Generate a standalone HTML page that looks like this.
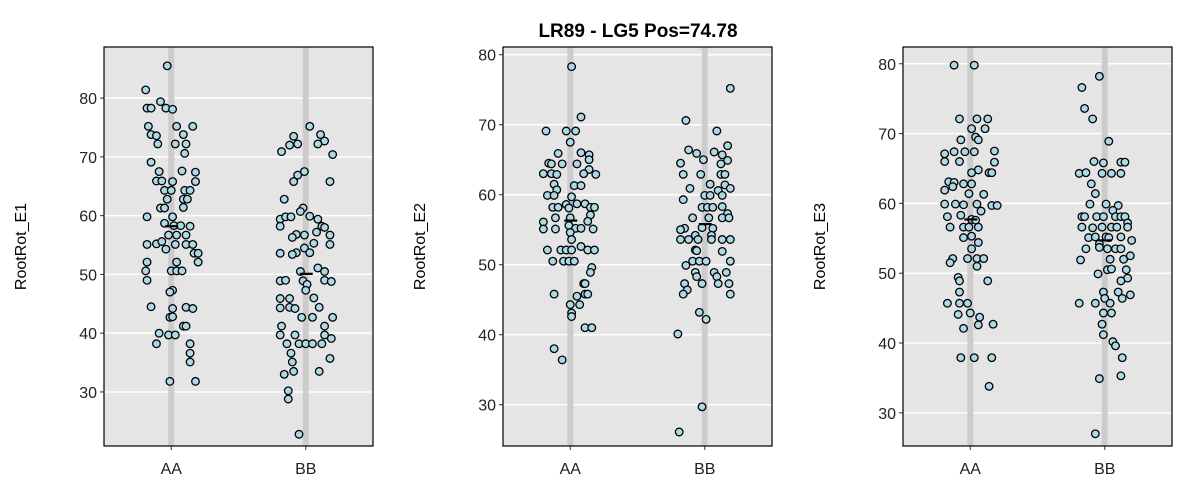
<!DOCTYPE html>
<html><head><meta charset="utf-8"><style>
html,body{margin:0;padding:0;background:#fff;}
svg{display:block;font-family:"Liberation Sans",Arial,sans-serif;}
</style></head><body>
<svg id="chart" width="1200" height="500">
<text x="638" y="37" text-anchor="middle" font-size="19" font-weight="bold" fill="#000">LR89 - LG5 Pos=74.78</text>
</svg>
<script>
const categories = ["AA", "BB"];
const ticks = [30, 40, 50, 60, 70, 80];
const yTitles = ["RootRot_E1", "RootRot_E2", "RootRot_E3"];
const domains = [[20.8, 88.7], [24.1, 81.1], [25.25, 82.4]];
const means = [[58.2, 50.1], [56.3, 55.8], [57.7, 54.7]];

const p1AAval = [85.5,81.4,78.3,78.3,79.4,78.3,78.1,75.2,73.8,73.6,72.2,75.2,75.2,73.8,72.2,72.2,70.6,69.1,67.5,67.6,67.4,65.8,65.9,65.9,65.8,64.3,64.3,64.3,64.3,62.8,62.8,62.8,61.3,61.3,61.4,59.8,59.8,58.7,58.3,58.2,58.3,56.7,56.7,56.7,55.1,55.2,55.6,54.3,55.1,55.1,55.1,53.6,53.6,52.1,52.1,50.6,49.0,52.1,50.6,50.6,50.6,47.3,47.0,44.5,44.2,44.4,44.2,42.7,42.8,41.2,41.2,40.0,39.7,39.7,38.2,38.2,36.6,35.1,31.8,31.8];
const p1AAjit = [-0.03,-0.19,-0.18,-0.15,-0.08,-0.04,0.01,-0.17,-0.15,-0.11,-0.1,0.04,0.16,0.09,0.03,0.11,0.1,-0.15,-0.09,0.08,0.18,0.18,-0.11,-0.07,0.01,-0.05,0,0.1,0.14,-0.03,0.09,0.12,-0.08,-0.05,0.09,-0.18,0.01,-0.05,0.02,0.14,0.07,-0.02,0.04,0.11,-0.18,-0.11,-0.07,-0.04,0.03,0.11,0.16,0.17,0.2,0.2,-0.18,-0.19,-0.18,0.04,0,0.04,0.08,0.01,-0.01,-0.15,0.01,0.11,0.16,-0.01,0.01,0.09,0.11,-0.09,-0.02,0.03,-0.11,0.14,0.14,0.14,-0.01,0.18];
const p1BBval = [75.2,73.5,73.8,72.7,72.0,72.2,72.2,70.9,70.4,67.5,66.9,65.8,65.8,62.8,61.3,60.7,59.4,59.8,59.8,59.9,59.4,58.2,58.0,58.2,57.2,56.8,56.7,56.3,56.7,55.3,55.1,54.5,53.7,53.4,53.7,53.6,51.1,50.5,50.5,48.9,49.0,48.9,49.0,48.8,48.3,47.3,46.0,45.9,45.9,44.3,44.4,44.2,44.4,42.7,42.7,42.7,41.2,41.2,39.7,39.7,39.7,39.1,38.2,38.2,38.2,38.2,38.2,36.6,35.1,35.7,33.5,33.0,33.5,30.2,28.8,22.8];
const p1BBjit = [0.03,-0.09,0.11,0.14,-0.12,-0.06,0.09,-0.18,0.2,-0.01,-0.06,-0.09,0.18,-0.16,-0.02,-0.04,-0.19,-0.15,-0.11,0.03,0.09,0.12,0.14,-0.19,0.08,-0.07,-0.01,-0.1,0.18,0.06,0.18,-0.01,-0.07,-0.1,0.03,-0.19,0.09,-0.04,0.14,-0.19,-0.15,-0.02,0.14,0.19,0.01,0,0.06,-0.19,-0.12,-0.19,-0.12,-0.08,0.1,-0.03,0.05,0.2,-0.18,0.14,-0.19,-0.08,0.14,0.19,-0.14,-0.05,0,0.05,0.12,-0.11,-0.1,0.18,-0.09,-0.16,0.1,-0.13,-0.13,-0.05];

const p2AAval = [78.3,71.1,69.1,69.1,69.1,67.5,65.9,66.0,65.7,64.5,64.4,64.4,64.4,65.0,63.6,63.0,63.0,62.9,63.0,62.9,61.5,61.3,61.3,60.7,59.9,59.9,59.7,58.2,58.2,58.6,58.7,58.7,58.2,58.2,58.1,56.7,56.7,57.1,56.1,56.2,55.1,55.1,55.6,55.2,55.2,55.1,54.6,53.6,52.1,52.1,52.1,52.1,52.6,52.1,52.1,50.5,50.5,50.5,50.5,49.6,48.9,47.3,47.3,45.8,45.8,45.8,45.5,44.3,44.3,43.1,42.6,41.0,41.0,38.0,36.4];
const p2AAjit = [0.01,0.08,-0.18,-0.03,0.04,0,-0.09,0.08,0.14,-0.16,-0.14,-0.06,0.05,0.14,0.14,-0.2,-0.14,-0.1,0.1,0.19,-0.12,0.03,0.08,-0.1,-0.17,-0.12,0.01,-0.13,-0.09,-0.03,0.05,0.11,0.15,0.18,-0.01,-0.11,0,0.15,-0.2,0.13,-0.2,-0.11,-0.01,0.04,0.08,0.17,0,0.01,-0.17,-0.07,-0.03,0.01,0.08,0.13,0.18,-0.13,-0.05,-0.01,0.03,0.16,0.15,0.1,0.11,-0.12,0.11,0.13,0.05,0,0.07,0.01,0.01,0.11,0.16,-0.12,-0.06];
const p2BBval = [75.2,70.6,69.1,67.0,66.4,65.9,66.1,65.7,65.0,64.9,64.5,64.4,62.9,62.9,62.9,62.9,61.5,61.4,60.9,60.9,60.6,59.9,59.9,59.9,59.3,58.2,58.2,58.2,58.3,57.3,56.7,56.7,56.7,56.7,55.2,55.0,55.3,55.2,54.2,54.2,53.6,53.6,53.6,53.6,53.6,53.6,52.1,52.0,51.9,50.5,50.5,50.5,50.5,49.9,48.9,48.3,48.9,48.3,48.9,47.3,47.3,47.3,47.3,46.4,45.8,45.8,43.2,42.2,40.1,29.7,26.1];
const p2BBjit = [0.19,-0.14,0.09,0.17,-0.12,-0.06,0.07,0.13,-0.01,0.17,-0.18,0.12,-0.16,-0.03,0.12,0.15,0.04,0.15,0.19,-0.11,0.1,0,0.04,0.13,-0.16,-0.02,0.02,0.06,0.13,0.17,-0.09,0.03,0.13,0.18,-0.15,-0.18,-0.02,0.06,-0.07,0.05,-0.18,-0.12,-0.05,0.05,0.13,0.19,-0.07,-0.06,0.13,-0.09,-0.04,0.01,0.19,-0.14,-0.07,-0.06,0.07,0.09,0.16,-0.15,-0.02,0.1,0.18,-0.13,-0.16,0.19,-0.04,0.01,-0.2,-0.02,-0.19];

const p3AAval = [79.8,79.8,72.1,72.1,72.1,70.7,70.7,69.5,69.1,69.1,67.4,67.4,67.4,67.5,67.1,66.0,66.0,65.9,64.8,64.4,64.4,64.4,63.1,63.0,62.8,62.8,61.9,62.4,61.4,61.3,59.9,59.9,59.8,59.9,59.7,59.7,58.9,58.1,58.3,57.7,57.6,56.6,56.6,56.6,56.6,55.1,55.3,54.4,53.5,52.1,51.5,52.1,52.1,52.1,51.0,49.4,48.9,48.9,47.3,45.7,45.7,45.7,44.1,44.3,43.7,42.6,42.7,42.1,37.9,37.9,37.9,33.8];
const p3AAjit = [-0.12,0.03,-0.08,0.05,0.13,0.01,0.11,0.04,0.06,-0.07,-0.12,-0.04,0.03,0.18,-0.19,-0.19,-0.08,0.18,0.06,0.01,0.14,0.16,-0.16,-0.12,-0.05,0.01,-0.19,-0.13,-0.01,0.1,-0.19,-0.11,-0.05,0.05,0.16,0.2,0.08,-0.17,-0.07,0.01,0.04,-0.15,-0.05,-0.01,0.06,-0.05,0.01,0.06,0.01,-0.13,-0.15,-0.02,0.05,0.1,0.05,-0.09,-0.08,0.13,-0.08,-0.17,-0.08,-0.02,-0.09,0,0.07,0.06,0.17,-0.05,-0.07,0.03,0.16,0.14];
const p3BBval = [78.2,76.6,73.6,72.1,68.9,66.0,65.8,65.9,65.9,64.3,64.4,64.3,64.3,64.3,62.8,61.4,59.9,59.9,59.7,59.0,58.1,58.1,58.1,58.1,58.1,58.1,58.1,57.2,56.6,56.5,56.6,56.6,56.6,56.6,55.1,55.2,55.2,55.1,55.2,54.7,54.2,53.5,53.7,53.5,53.5,53.5,51.9,52.0,52.0,52.5,50.5,50.6,50.5,49.9,49.3,48.9,47.3,47.3,46.9,46.4,45.7,45.7,46.4,45.7,44.3,44.3,42.7,41.2,40.2,39.6,37.9,34.9,35.3,27.0];
const p3BBjit = [-0.04,-0.17,-0.15,-0.09,0.03,-0.08,-0.01,0.12,0.15,-0.19,-0.14,-0.02,0.05,0.12,-0.1,-0.07,-0.11,0.01,0.1,0.06,-0.17,-0.15,-0.06,-0.01,0.08,0.12,0.15,0.17,-0.17,-0.09,-0.02,0.05,0.09,0.17,-0.12,-0.07,0.01,0.03,0.12,0.2,-0.04,-0.14,-0.04,0.02,0.08,0.12,-0.18,0.04,0.14,0.19,0.02,0.05,0.16,-0.05,0.17,0.12,-0.01,0.1,0.19,0.13,-0.19,-0.07,0,0.04,-0.01,0.05,-0.02,-0.01,0.06,0.08,0.13,-0.04,0.12,-0.07];

const panelVals = [[p1AAval, p1BBval], [p2AAval, p2BBval], [p3AAval, p3BBval]];
const panelJit = [[p1AAjit, p1BBjit], [p2AAjit, p2BBjit], [p3AAjit, p3BBjit]];

const NS = "http://www.w3.org/2000/svg";
const svg = document.getElementById("chart");
function mk(tag, attrs, parent) {
  const e = document.createElementNS(NS, tag);
  for (const k in attrs) e.setAttribute(k, attrs[k]);
  (parent || svg).appendChild(e);
  return e;
}
const panelLefts = [104, 503, 903];
const PW = 269, TOP = 47, BOT = 446;

for (let p = 0; p < 3; p++) {
  const L = panelLefts[p], R = L + PW;
  const [d0, d1] = domains[p];
  const y = v => BOT - (v - d0) / (d1 - d0) * (BOT - TOP);
  const x = c => L + PW * (0.25 + 0.5 * c);
  const catW = PW * 0.5;
  const g = mk("g", {});
  
  
  const bg = mk("rect", {x: L, y: TOP, width: PW, height: BOT - TOP, fill: "#e5e5e5"}, g);
  
  
  ticks.forEach(t => {
    const yy = y(t);
    if (yy < TOP || yy > BOT) return;
    const gl = mk("line", {x1: L, x2: R, y1: yy, y2: yy, stroke: "#fff", "stroke-width": 1.5}, g);
    
    
    const tk = mk("line", {x1: L - 4, x2: L, y1: yy, y2: yy, stroke: "#333", "stroke-width": 1}, g);
    
    
    const tl = mk("text", {x: L - 7, y: yy + 6, "text-anchor": "end", "font-size": 16, fill: "#222"}, g);
    tl.textContent = t;
    
    
  });
  categories.forEach((c, ci) => {
    const xx = x(ci);
    const band = mk("rect", {x: xx - 3, y: TOP, width: 6, height: BOT - TOP, fill: "#cccccc"}, g);
    
    
    const tk = mk("line", {x1: xx, x2: xx, y1: BOT, y2: BOT + 4, stroke: "#333"}, g);
    
    
    const tl = mk("text", {x: xx, y: BOT + 28, "text-anchor": "middle", "font-size": 16, fill: "#222"}, g);
    tl.textContent = c;
    
    
  });
  categories.forEach((c, ci) => {
    const vals = panelVals[p][ci], jit = panelJit[p][ci];
    vals.forEach((v, i) => {
      const pt = mk("circle", {cx: x(ci) + jit[i] * catW, cy: y(v), r: 3.8, fill: "#add8e6", stroke: "#000", "stroke-width": 1.3}, g);
      
      
    });
    const m = mk("line", {x1: x(ci) - 6, x2: x(ci) + 7, y1: y(means[p][ci]), y2: y(means[p][ci]), stroke: "#000", "stroke-width": 2.2}, g);
    
    
  });
  const border = mk("rect", {x: L, y: TOP, width: PW, height: BOT - TOP, fill: "none", stroke: "#000", "stroke-width": 1.2}, g);
  
  
  const yt = mk("text", {x: 0, y: 0, "text-anchor": "middle", "font-size": 16, fill: "#000", transform: `translate(${L - 78},${(TOP + BOT) / 2}) rotate(-90)`}, g);
  yt.textContent = yTitles[p];
  
  
}
</script>
</body></html>
